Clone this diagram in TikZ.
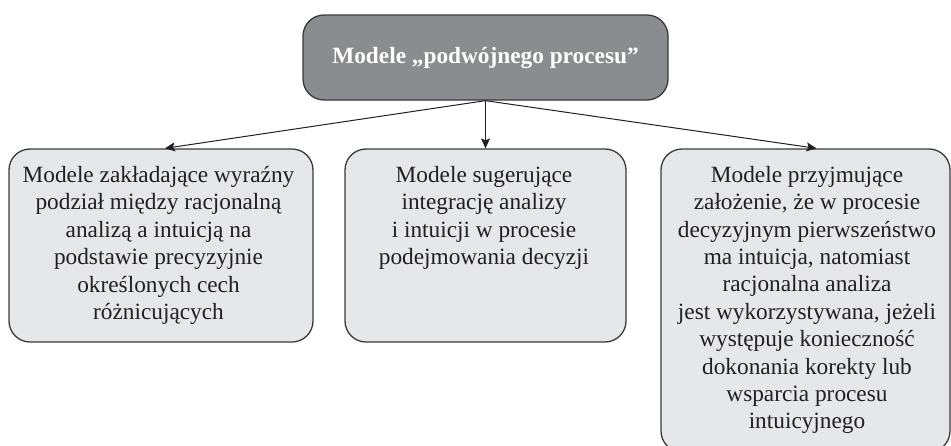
\documentclass[tikz,border=0pt]{standalone}
\usepackage{fontspec}
\setmainfont{Liberation Serif}
\usetikzlibrary{arrows.meta}
\definecolor{ink}{HTML}{231F20}
\definecolor{edge}{HTML}{3A3A3C}
\definecolor{headfill}{HTML}{8B8C8F}
\definecolor{boxfill}{HTML}{E6E7E8}
\begin{document}
\begin{tikzpicture}[x=1pt,y=1pt,
  panel/.style={draw=edge, line width=1.3pt, rounded corners=21pt, inner sep=0pt},
  headbox/.style={panel, fill=headfill, minimum width=365pt, minimum height=85pt},
  catbox/.style={panel, fill=boxfill},
  caption/.style={anchor=north, inner sep=0pt, align=center, text=ink,
    font=\fontsize{23.3}{27.4}\selectfont},
  link/.style={draw=ink, line width=1pt, -{Stealth[length=10pt,width=9pt,inset=2pt]}}]
\useasboundingbox (0,0) rectangle (951,-445);

% head of the hierarchy
\node[headbox] (head) at (485.5,-57.5) {};
\node[text=white, inner sep=0pt, font=\bfseries\fontsize{23.3}{27.4}\selectfont]
  (headtext) at (head.center) {Modele „podwójnego procesu”};

% three categories of models
\node[catbox, minimum width=304pt, minimum height=193pt] (left) at (161,-245.5) {};
\node[catbox, minimum width=281pt, minimum height=193pt] (mid) at (485.5,-245.5) {};
\node[catbox, minimum width=289pt, minimum height=303pt] (right) at (805.5,-300.5) {};

\node[caption] (lefttext) at (158.5,-166) {Modele zakładające wyraźny\\podział między racjonalną\\analizą a intuicją na\\podstawie precyzyjnie\\określonych cech\\różnicujących};
\node[caption] (midtext) at (484,-166) {Modele sugerujące\\integrację analizy\\i intuicji w procesie\\podejmowania decyzji};
\node[caption] (righttext) at (807,-166) {Modele przyjmujące\\założenie, że w procesie\\decyzyjnym pierwszeństwo\\ma intuicja, natomiast\\racjonalna analiza\\jest wykorzystywana, jeżeli\\występuje konieczność\\dokonania korekty lub\\wsparcia procesu\\intuicyjnego};

% connectors
\draw[link] (head.south) -- ([xshift=4pt]left.north);
\draw[link] (head.south) -- (mid.north);
\draw[link] (head.south) -- ([xshift=11pt]right.north);
\end{tikzpicture}
\end{document}
